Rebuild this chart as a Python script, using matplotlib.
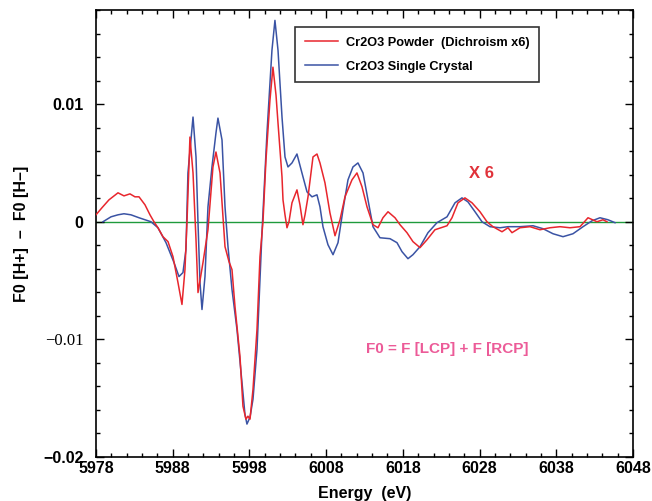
import numpy as np
import matplotlib
matplotlib.use("Agg")
import matplotlib.pyplot as plt
from matplotlib.ticker import MultipleLocator

plt.rcParams['font.family'] = ['Liberation Sans', 'DejaVu Sans']

# Cr2O3 powder (dichroism x6), values in units of 1e-3
powder_e = [5978.00, 5978.78, 5979.69, 5980.87, 5981.65, 5982.43, 5983.08, 5983.61, 5984.39, 5985.04,
            5985.56, 5986.08, 5986.73, 5987.39, 5988.04, 5988.69, 5989.21, 5989.60, 5989.86, 5990.25,
            5990.65, 5991.04, 5991.30, 5991.95, 5992.60, 5993.25, 5993.64, 5994.17, 5994.82, 5995.34,
            5995.73, 5996.12, 5996.77, 5997.16, 5997.55, 5997.81, 5998.08, 5998.47, 5998.99, 5999.38,
            5999.77, 6000.16, 6000.68, 6001.07, 6001.47, 6001.73, 6002.25, 6002.38, 6002.64, 6002.90,
            6003.16, 6003.55, 6004.20, 6004.59, 6004.98, 6005.25, 6005.64, 6006.29, 6006.81, 6007.20,
            6007.85, 6008.50, 6009.16, 6009.81, 6010.46, 6011.37, 6012.02, 6012.68, 6013.33, 6014.11,
            6014.76, 6015.41, 6016.07, 6016.98, 6017.63, 6018.54, 6019.32, 6020.24, 6021.15, 6022.19,
            6023.76, 6024.41, 6025.19, 6026.10, 6027.02, 6028.06, 6028.97, 6029.75, 6030.93, 6031.71,
            6032.23, 6033.27, 6034.58, 6035.88, 6037.18, 6038.49, 6039.79, 6041.10, 6042.14, 6043.31,
            6044.09, 6044.61]
powder_v = [0.59, 1.19, 1.86, 2.46, 2.20, 2.37, 2.12, 2.12, 1.44, 0.59,
            0.00, -0.51, -1.27, -1.69, -2.97, -5.17, -7.03, -4.07, -0.08, 7.20,
            4.15, -1.53, -6.02, -3.47, -0.68, 4.66, 5.93, 4.15, -2.12, -3.39,
            -4.07, -7.20, -11.44, -15.68, -16.78, -16.53, -16.78, -14.24, -9.15, -2.97,
            0.00, 5.25, 10.34, 13.14, 10.76, 8.39, 3.81, 1.86, 0.59, -0.51,
            0.00, 1.61, 2.71, 1.44, -0.25, 0.59, 2.12, 5.51, 5.76, 5.00,
            3.31, 0.76, -1.19, 0.17, 2.12, 3.56, 4.15, 2.97, 1.27, -0.25,
            -0.51, 0.34, 0.85, 0.34, -0.25, -0.93, -1.69, -2.20, -1.53, -0.68,
            -0.34, 0.34, 1.61, 2.03, 1.61, 0.85, 0.00, -0.42, -0.85, -0.51,
            -0.93, -0.51, -0.42, -0.68, -0.51, -0.42, -0.51, -0.42, 0.34, 0.00,
            0.17, 0.00]

# Cr2O3 single crystal, values in units of 1e-3
crystal_e = [5978.91, 5979.96, 5980.87, 5981.65, 5982.56, 5983.61, 5985.17, 5986.08, 5987.13, 5988.17,
             5988.82, 5989.34, 5989.73, 5989.99, 5990.65, 5991.04, 5991.30, 5991.56, 5991.82, 5992.21,
             5992.60, 5993.12, 5993.64, 5993.90, 5994.43, 5994.82, 5995.21, 5995.73, 5996.38, 5997.03,
             5997.42, 5997.68, 5998.08, 5998.47, 5998.99, 5999.64, 6000.29, 6000.94, 6001.33, 6001.73,
             6002.25, 6002.64, 6003.03, 6003.55, 6004.20, 6004.85, 6005.51, 6006.16, 6006.81, 6007.20,
             6007.59, 6008.24, 6008.90, 6009.55, 6010.20, 6010.85, 6011.50, 6012.15, 6012.81, 6013.46,
             6014.11, 6015.02, 6016.33, 6017.24, 6017.89, 6018.67, 6019.32, 6020.24, 6021.28, 6022.45,
             6023.76, 6024.80, 6025.71, 6026.49, 6027.41, 6028.32, 6029.36, 6030.67, 6031.71, 6033.27,
             6034.97, 6036.27, 6037.58, 6038.88, 6040.18, 6041.49, 6042.66, 6043.70, 6044.74, 6045.66]
crystal_v = [0.00, 0.42, 0.59, 0.68, 0.59, 0.34, 0.00, -0.51, -1.78, -3.47,
             -4.66, -4.32, -2.37, 4.15, 8.90, 5.51, -0.08, -5.17, -7.46, -4.66,
             1.27, 4.66, 7.54, 8.81, 6.95, 1.27, -2.12, -5.76, -9.15, -13.64,
             -16.36, -17.20, -16.61, -15.08, -10.85, -0.93, 7.54, 14.58, 17.12, 14.58,
             8.90, 5.51, 4.66, 5.00, 5.76, 4.15, 2.54, 2.12, 2.29, 1.27,
             -0.42, -1.95, -2.80, -1.78, 1.02, 3.56, 4.66, 5.00, 4.15, 1.86,
             -0.42, -1.36, -1.44, -1.78, -2.54, -3.14, -2.80, -2.12, -0.93, -0.08,
             0.42, 1.61, 2.03, 1.69, 0.85, 0.00, -0.42, -0.51, -0.42, -0.42,
             -0.34, -0.59, -1.02, -1.27, -1.02, -0.42, 0.08, 0.34, 0.17, -0.08]

x_ticks = [5978, 5988, 5998, 6008, 6018, 6028, 6038, 6048]
y_ticks = [-0.02, -0.01, 0, 0.01]
y_labels = ["\u22120.02", "\u22120.01", "0", "0.01"]

fig = plt.figure(figsize=(6.52, 5.01), dpi=100)
ax = fig.add_axes([0.1472, 0.0878, 0.8236, 0.8922])

ax.axhline(0, color="#1f9a3c", lw=1.0, zorder=1)
ax.plot(powder_e, np.array(powder_v) * 1e-3, color="#e8262d", lw=1.1,
        label="Cr2O3 Powder  (Dichroism x6)", zorder=3)
ax.plot(crystal_e, np.array(crystal_v) * 1e-3, color="#3a53a4", lw=1.1,
        label="Cr2O3 Single Crystal", zorder=2)

ax.set_xlim(5978, 6048)
ax.set_ylim(-0.02, 0.018)
ax.set_xticks(x_ticks)
ax.set_xticklabels([str(t) for t in x_ticks], fontsize=11.5, fontweight="bold")
ax.set_yticks(y_ticks)
ax.set_yticklabels(y_labels, fontsize=11.5, fontweight="bold")
# the -0.01 label is a plain serif face in the original
ylab = ax.get_yticklabels()[1]
ylab.set_fontfamily(["Liberation Serif", "DejaVu Serif"])
ylab.set_fontweight("normal")
ylab.set_fontsize(12)
ax.xaxis.set_minor_locator(MultipleLocator(2))
ax.yaxis.set_minor_locator(MultipleLocator(0.002))
ax.tick_params(which="both", direction="in", top=True, right=True, width=1.0)
ax.tick_params(which="major", length=6, pad=3)
ax.tick_params(which="minor", length=3)
ax.tick_params(axis="y", which="major", pad=9)
for sp in ax.spines.values():
    sp.set_linewidth(1.2)

ax.set_xlabel("Energy  (eV)", fontsize=11.5, fontweight="bold", labelpad=7)
ax.set_ylabel("F0 [H+]  \u2013  F0 [H\u2013]", fontsize=11.5, fontweight="bold", labelpad=10)

leg = ax.legend(loc="upper left", bbox_to_anchor=(0.371, 0.962),
                prop={"weight": "bold", "size": 9.2}, frameon=True, fancybox=False,
                edgecolor="black", handlelength=2.6, borderpad=0.75, labelspacing=0.95,
                handletextpad=0.6, borderaxespad=0)
leg.get_frame().set_linewidth(1.2)

ax.text(6028.3, 0.0041, "X 6", color="#e0323a", fontsize=12, fontweight="bold",
        ha="center", va="center")
ax.text(6023.8, -0.0108, "F0 = F [LCP] + F [RCP]", color="#ec5b98", fontsize=11,
        fontweight="bold", ha="center", va="center")

plt.savefig("out.png", dpi=100)
plt.close()
